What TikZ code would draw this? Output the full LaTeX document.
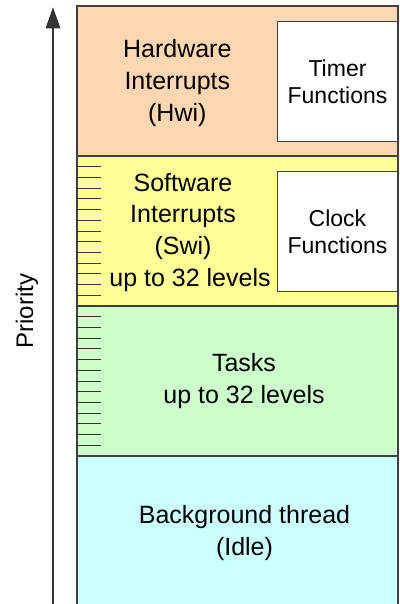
\documentclass[tikz,border=0pt]{standalone}
\usepackage{fontspec}
\setmainfont{Liberation Sans}
\usetikzlibrary{arrows.meta}
\definecolor{hwicol}{RGB}{253,214,178}
\definecolor{swicol}{RGB}{255,255,153}
\definecolor{taskcol}{RGB}{204,255,204}
\definecolor{idlecol}{RGB}{204,255,255}
\definecolor{edgecol}{RGB}{64,64,64}
\begin{document}
\begin{tikzpicture}[x=1pt,y=-1pt,
  region/.style={draw=edgecol, line width=1.2pt, anchor=north west,
    minimum width=321pt, minimum height=150pt, inner sep=0pt, outer sep=0pt},
  funcbox/.style={draw=edgecol, fill=white, line width=1.2pt, anchor=north west,
    minimum width=119.6pt, minimum height=120pt, inner sep=0pt, outer sep=0pt,
    align=center, font=\fontsize{23}{26.7}\selectfont},
  bigtext/.style={align=center, inner sep=0pt, font=\fontsize{25}{31.7}\selectfont},
  tickline/.style={draw=black!80, line width=1pt},
  prioarrow/.style={draw=black!80, line width=1.1pt, -{Triangle[length=21pt,width=14.7pt]}}
]
\useasboundingbox (0,0) rectangle (399,604);
% thread regions
\node[region, fill=hwicol] (hwi) at (77,6) {};
\node[region, fill=swicol] (swi) at (77,156) {};
\node[region, fill=taskcol] (tsk) at (77,306) {};
\node[region, fill=idlecol, minimum height=170pt] (idle) at (77,456) {};
% priority level ticks
\foreach \k in {1,...,27} {
  \draw[tickline] (77,{156+\k*150/14}) -- ++(24,0);
}
% function boxes
\node[funcbox] (timer) at (277.7,21.7) {Timer\\Functions};
\node[funcbox] (clock) at (277.7,171.7) {Clock\\Functions};
% region labels
\node[bigtext] (hwit) at (177.3,83.1) {Hardware\\Interrupts\\(Hwi)};
\node[bigtext] (swit) at (183,232.1) {Software\\Interrupts\\(Swi)\\\hspace*{14pt}up to 32 levels};
\node[bigtext] (tskt) at (244,381.2) {Tasks\\up to 32 levels};
\node[bigtext] (idlet) at (244.5,532.9) {Background thread\\(Idle)};
% priority axis
\coordinate (pbot) at (53,612);
\coordinate (ptop) at (53,7.3);
\draw[prioarrow] (pbot) -- (ptop);
\node[rotate=90, inner sep=0pt, font=\fontsize{24}{28}\selectfont] (prio) at (26.9,311) {Priority};
\end{tikzpicture}
\end{document}
